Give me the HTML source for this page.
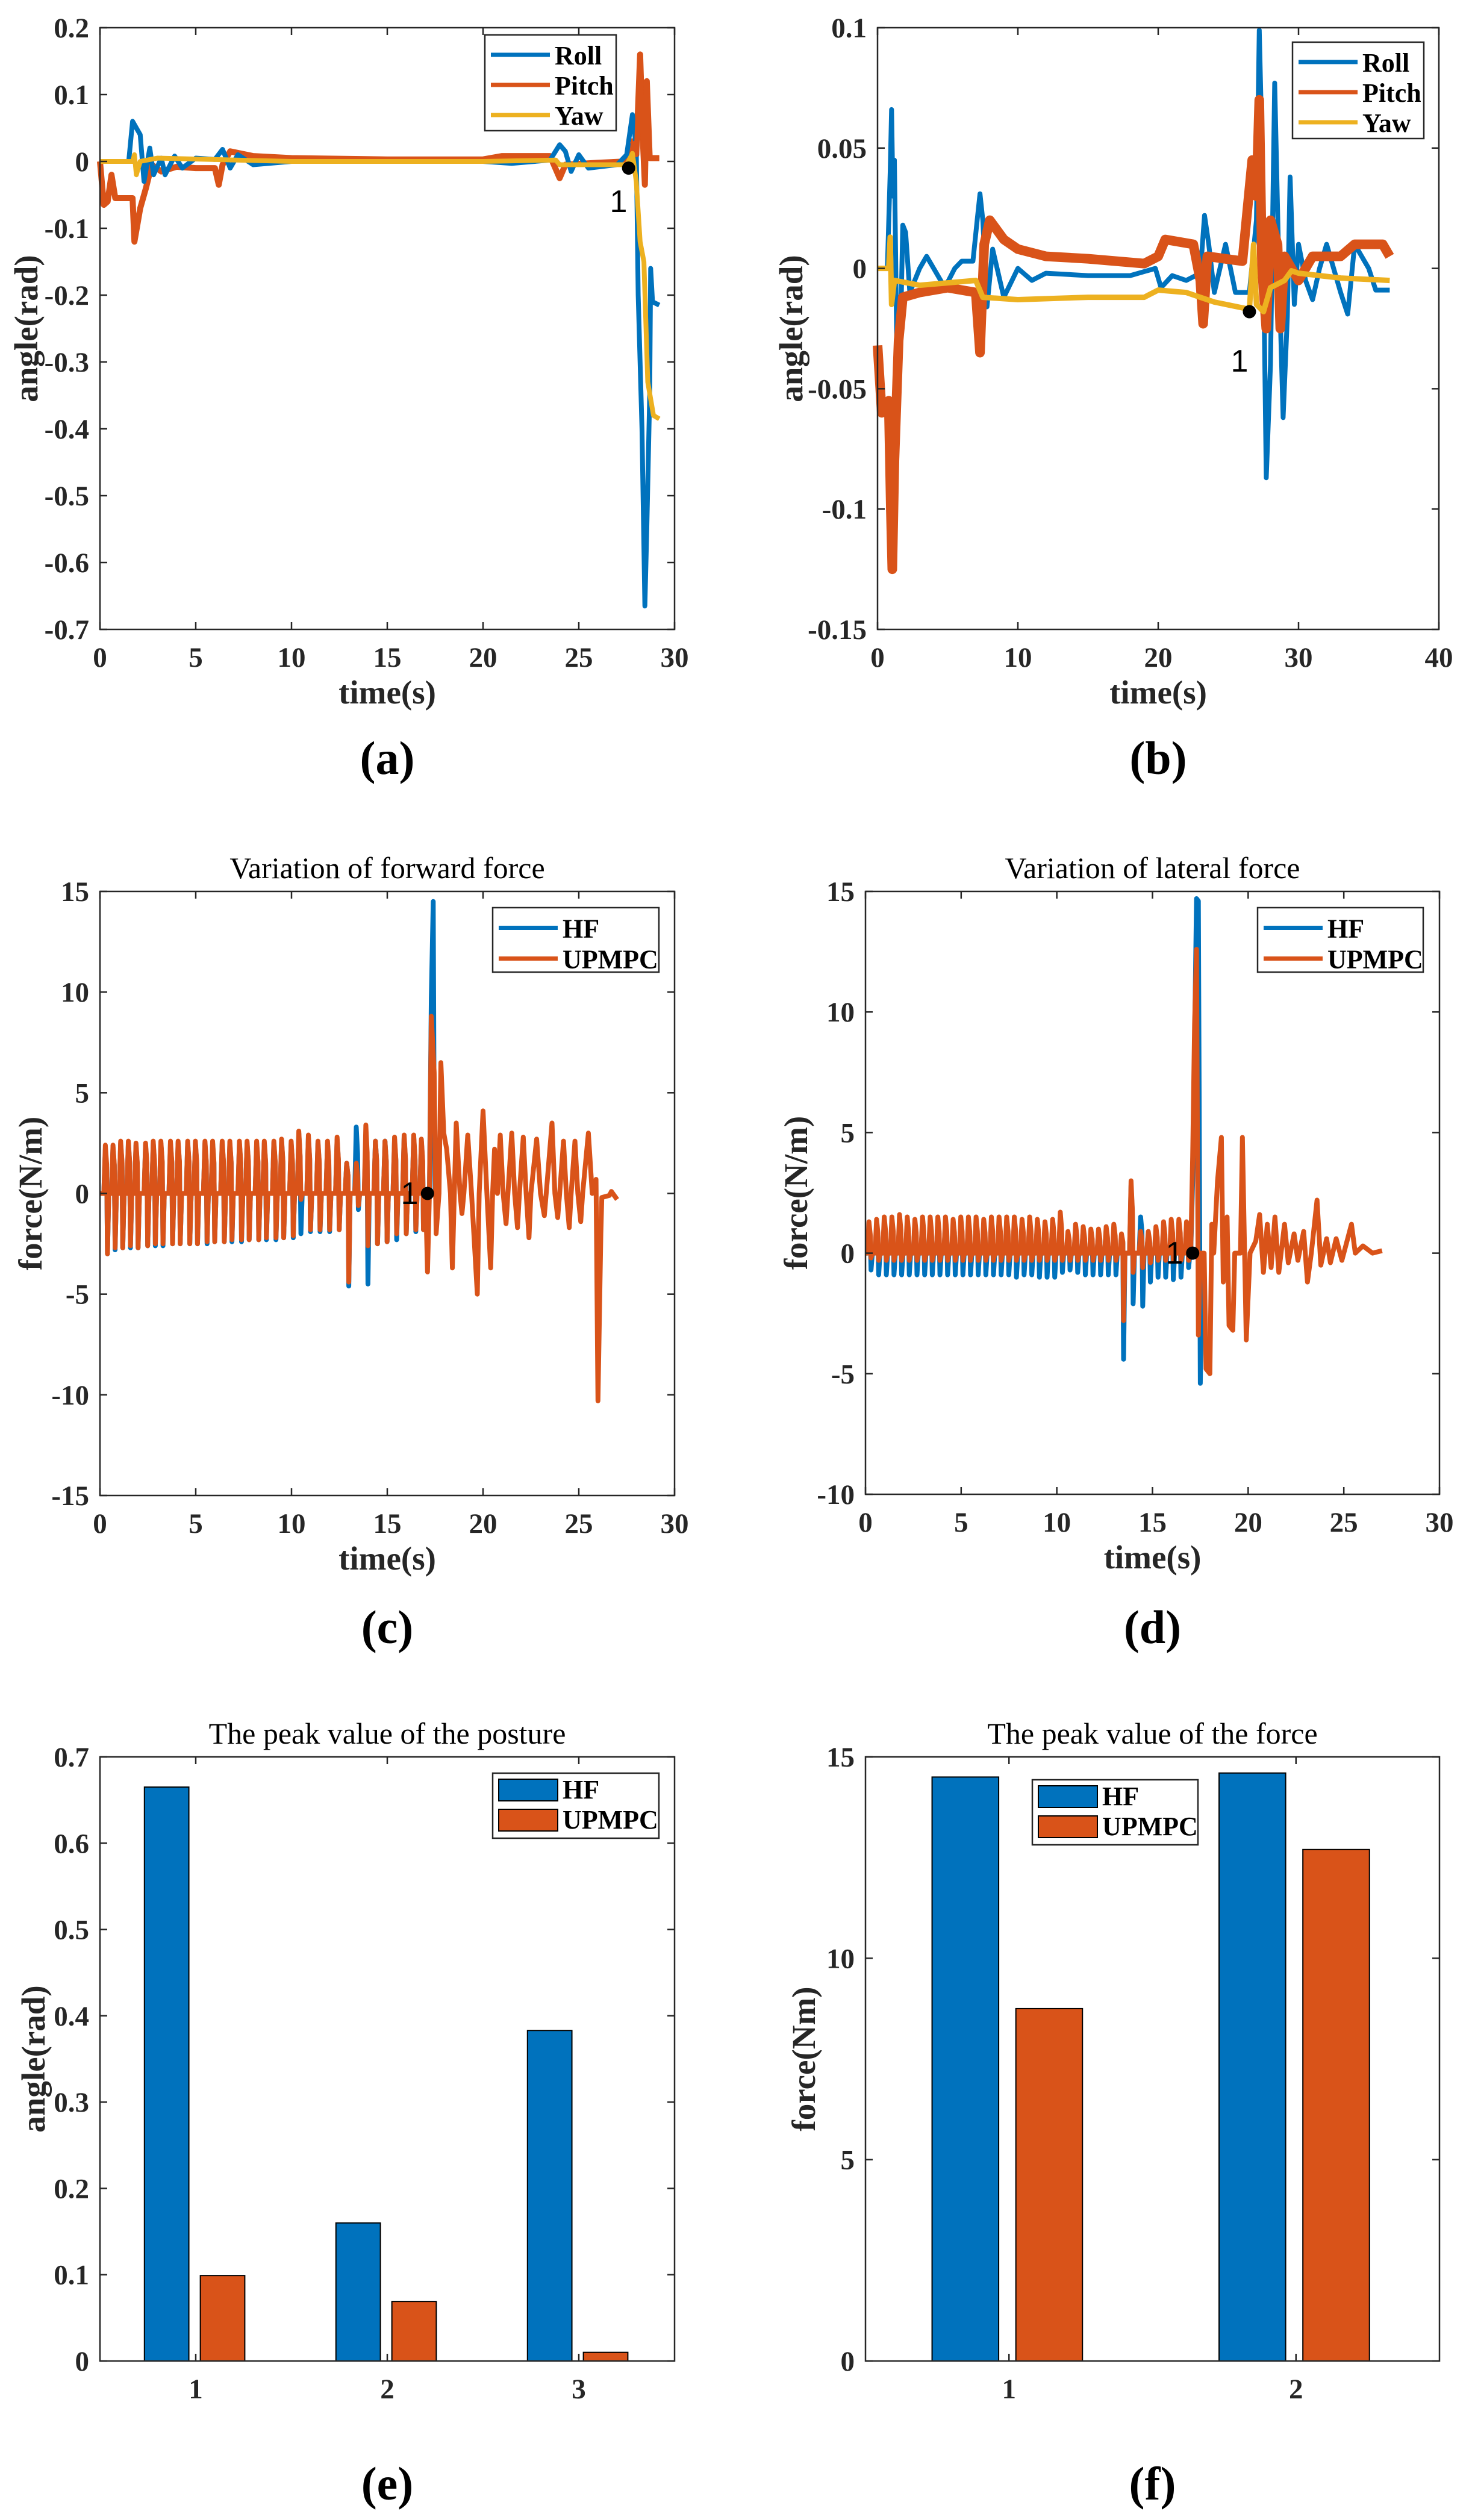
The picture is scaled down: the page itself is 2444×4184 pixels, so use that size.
<!DOCTYPE html>
<html><head><meta charset="utf-8">
<style>
html,body{margin:0;padding:0;background:#fff;}
svg{display:block;}
text{font-family:"Liberation Serif",serif;fill:#262626;}
.tk{font-size:47px;font-weight:bold;}
.al{font-size:55px;font-weight:bold;}
.tt{font-size:50px;fill:#000;}
.lg{font-size:44px;font-weight:bold;fill:#000;}
.pl{font-size:78px;fill:#000;font-weight:bold;}
</style></head>
<body>
<svg id="fig" width="2444" height="4184" viewBox="0 0 2444 4184" xmlns="http://www.w3.org/2000/svg"></svg>
<script>
// ---------- Panel (a) data: [time, angle] ----------
const rollA=[[0,0],[1.5,0],[1.7,0.06],[1.9,0.05],[2.1,0.04],[2.3,-0.03],[2.6,0.02],[2.8,-0.02],[3.2,0.005],[3.4,-0.02],[3.9,0.008],[4.3,-0.01],[5,0.005],[6,0.003],[6.4,0.018],[6.8,-0.01],[7.2,0.01],[8,-0.005],[10,0],[20,0],[21.5,-0.003],[23.5,0.002],[24,0.025],[24.3,0.015],[24.6,-0.015],[25,0.01],[25.5,-0.01],[27,-0.005],[27.5,0.01],[27.8,0.07],[28,0.02],[28.1,-0.2],[28.3,-0.4],[28.45,-0.665],[28.55,-0.55],[28.7,-0.35],[28.75,-0.16],[28.85,-0.21],[29.2,-0.215]];
const pitchA=[[0,0],[0.2,-0.065],[0.4,-0.06],[0.6,-0.02],[0.8,-0.055],[1.7,-0.055],[1.8,-0.12],[2.1,-0.07],[2.4,-0.04],[2.7,-0.005],[3.2,-0.015],[4,-0.008],[5,-0.01],[6,-0.01],[6.2,-0.035],[6.4,-0.005],[6.8,0.015],[8,0.008],[10,0.005],[15,0.003],[20,0.003],[21,0.008],[23.5,0.008],[24,-0.025],[24.3,-0.005],[26,-0.002],[27.5,0],[27.8,0.03],[28.0,0.01],[28.2,0.16],[28.35,0.03],[28.45,-0.035],[28.55,0.12],[28.7,0.005],[29.2,0.005]];
const yawA=[[0,0],[1.7,0],[1.8,0.01],[1.9,-0.02],[2.1,0],[3,0.005],[10,0],[20,0],[23.8,0.002],[24,-0.005],[27.5,-0.005],[27.8,0.012],[28,-0.03],[28.2,-0.12],[28.4,-0.15],[28.6,-0.33],[28.9,-0.38],[29.2,-0.385]];
const markA=[27.6,-0.01];
const yTicksA=[0.2,0.1,0,-0.1,-0.2,-0.3,-0.4,-0.5,-0.6,-0.7];
const yTickLabelsA=["0.2","0.1","0","-0.1","-0.2","-0.3","-0.4","-0.5","-0.6","-0.7"];
const xTicksA=[0,5,10,15,20,25,30];

// ---------- Panel (b) data ----------
const rollB=[[0,0],[0.7,0],[0.9,0.04],[1,0.066],[1.1,0.03],[1.2,0.045],[1.4,-0.045],[1.7,-0.01],[1.8,0.018],[2,0.015],[2.3,-0.01],[3,0],[3.5,0.005],[4,0],[4.8,-0.008],[5.5,0],[6,0.003],[6.8,0.003],[7.1,0.02],[7.3,0.031],[7.5,0.02],[7.8,-0.016],[8.2,0.008],[9,-0.012],[10,0],[11,-0.005],[12,-0.002],[15,-0.003],[18,-0.003],[19.8,0],[20.2,-0.008],[21,-0.003],[22,-0.005],[23,-0.002],[23.3,0.022],[23.6,0.01],[24,-0.01],[24.8,0.01],[25.5,-0.01],[26.5,-0.01],[27,0.02],[27.2,0.099],[27.4,0.05],[27.7,-0.087],[28,-0.04],[28.3,0.077],[28.6,0],[28.9,-0.062],[29.2,-0.02],[29.4,0.038],[29.7,-0.015],[30,0.01],[30.5,-0.005],[31,-0.013],[31.5,0],[32,0.01],[33,-0.01],[33.5,-0.019],[34,0.01],[35,0],[35.5,-0.009],[36.5,-0.009]];
const pitchB=[[0,-0.032],[0.3,-0.06],[0.6,-0.058],[0.8,-0.055],[0.95,-0.1],[1.05,-0.125],[1.2,-0.08],[1.5,-0.03],[1.8,-0.012],[3,-0.01],[5,-0.008],[7,-0.01],[7.3,-0.035],[7.6,0.01],[8,0.02],[9,0.012],[10,0.008],[12,0.005],[15,0.004],[19,0.002],[20,0.005],[20.5,0.012],[22.5,0.01],[23,-0.005],[23.2,-0.023],[23.5,0.005],[26,0.003],[26.7,0.045],[27,0.03],[27.2,0.07],[27.4,0],[27.7,-0.025],[28,0.02],[28.5,0.01],[28.7,-0.025],[29,0.005],[30,-0.005],[31,0.005],[33,0.005],[34,0.01],[35,0.01],[36,0.01],[36.5,0.005]];
const yawB=[[0,0],[0.8,0],[0.9,0.013],[1,-0.015],[1.2,-0.005],[3,-0.007],[7,-0.005],[7.5,-0.012],[10,-0.013],[15,-0.012],[19,-0.012],[20,-0.009],[22,-0.01],[23,-0.012],[24,-0.014],[26.5,-0.017],[26.8,0.01],[27,-0.015],[27.5,-0.018],[28,-0.008],[29,-0.005],[29.5,-0.001],[30,-0.002],[33,-0.004],[36.5,-0.005]];
const markB=[26.5,-0.018];
const yTicksB=[0.1,0.05,0,-0.05,-0.1,-0.15];
const yTickLabelsB=["0.1","0.05","0","-0.05","-0.1","-0.15"];
const xTicksB=[0,10,20,30,40];

// ---------- Panel (c) data ----------
const cycleTC=[0.2,0.6,1.0,1.4,1.8,2.3,2.7,3.1,3.6,4.0,4.5,4.9,5.4,5.8,6.3,6.7,7.2,7.6,8.1,8.5,9.0,9.4,9.9,10.3,10.8,11.3,11.8,12.3,12.8,13.3,13.8,14.3,14.8,15.3,15.8,16.3,16.7];
const upHiC=[2.4,2.4,2.6,2.6,2.5,2.5,2.6,2.6,2.6,2.6,2.6,2.6,2.6,2.6,2.6,2.6,2.6,2.6,2.6,2.6,2.6,2.7,2.6,3.1,2.9,2.6,2.6,2.8,1.5,1.5,3.4,2.6,2.6,2.8,2.9,2.9,2.7];
const upLoC=[-3.0,-2.7,-2.7,-2.6,-2.7,-2.6,-2.5,-2.5,-2.5,-2.5,-2.5,-2.5,-2.4,-2.4,-2.4,-2.3,-2.3,-2.3,-2.3,-2.2,-2.2,-2.2,-2.1,-0.3,-1.8,-1.8,-1.8,-1.8,-4.4,-0.6,-2.6,-2.5,-2.4,-2.0,-2.0,-1.8,-1.8];
const hfHiC=[2.2,2.3,2.5,2.5,2.4,2.4,2.5,2.5,2.5,2.5,2.5,2.5,2.5,2.5,2.5,2.5,2.5,2.5,2.5,2.5,2.5,2.6,2.5,3.0,2.8,2.5,2.5,2.7,1.5,3.3,2.7,2.6,2.6,2.7,2.8,2.8,2.6];
const hfLoC=[-3.0,-2.8,-2.7,-2.7,-2.7,-2.6,-2.6,-2.6,-2.5,-2.5,-2.5,-2.5,-2.5,-2.4,-2.4,-2.4,-2.4,-2.3,-2.3,-2.3,-2.3,-2.2,-2.2,-2.0,-1.9,-1.9,-1.9,-1.8,-4.6,-0.8,-4.5,-2.5,-2.4,-2.3,-2.0,-1.9,-1.8];
const upTailC=[[17.0,0],[17.1,-3.9],[17.2,0],[17.3,8.8],[17.45,6],[17.55,-2],[17.7,0],[17.8,6.5],[17.95,3],[18.1,2.2],[18.3,0],[18.4,-3.7],[18.5,0],[18.6,3.5],[18.8,0],[18.9,-1],[19.0,0],[19.2,2.9],[19.4,0],[19.7,-5],[19.8,0],[20.0,4.1],[20.2,0],[20.4,-3.7],[20.5,0],[20.6,2.2],[20.75,0],[20.9,2.9],[21.05,0],[21.2,-1.5],[21.3,0],[21.5,3],[21.65,0],[21.8,-1.7],[21.9,0],[22.1,2.8],[22.25,0],[22.4,-2.2],[22.5,0],[22.8,2.7],[23.0,0],[23.2,-1.1],[23.3,0],[23.6,3.5],[23.75,0],[23.9,-1.2],[24.0,0],[24.2,2.6],[24.35,0],[24.5,-1.7],[24.6,0],[24.8,2.6],[24.95,0],[25.1,-1.4],[25.2,0],[25.5,3],[25.7,0],[25.9,0.7],[26.0,-10.3],[26.15,-2],[26.2,-0.2],[26.6,-0.1],[26.7,0.1],[27,-0.3]];
const hfTailC=[[17.0,0],[17.2,0],[17.3,9.7],[17.4,14.5],[17.45,3],[17.5,0]];
const markC=[17.1,0];
const yTicksC=[15,10,5,0,-5,-10,-15];
const yTickLabelsC=["15","10","5","0","-5","-10","-15"];
const xTicksC=[0,5,10,15,20,25,30];

// ---------- Panel (d) data ----------
const cycleTD=[0.1,0.5,0.9,1.3,1.7,2.1,2.5,2.9,3.3,3.7,4.1,4.5,4.9,5.3,5.7,6.1,6.5,6.9,7.3,7.7,8.1,8.5,8.9,9.3,9.7,10.1,10.5,10.9,11.3,11.7,12.1,12.5,12.9,13.3,13.8,14.3,14.7,15.1,15.5,15.9,16.3,16.7];
const upHiD=[1.3,1.4,1.5,1.5,1.6,1.5,1.4,1.5,1.5,1.5,1.5,1.4,1.5,1.5,1.5,1.4,1.5,1.5,1.5,1.5,1.4,1.5,1.4,1.3,1.4,1.7,0.9,1.2,1.1,1.0,1.0,1.1,1.2,0.8,3.0,0.9,0.9,1.1,1.3,1.4,1.4,1.3];
const upLoD=[-0.2,-0.3,-0.3,-0.3,-0.3,-0.3,-0.3,-0.3,-0.3,-0.3,-0.3,-0.3,-0.3,-0.3,-0.3,-0.3,-0.3,-0.3,-0.3,-0.3,-0.3,-0.3,-0.3,-0.3,-0.3,-0.3,-0.3,-0.3,-0.3,-0.3,-0.3,-0.3,-0.3,-2.8,-0.8,-0.6,-0.4,-0.3,-0.3,-0.3,-0.3,-0.3];
const hfHiD=[1.1,1.2,1.3,1.3,1.3,1.3,1.2,1.3,1.3,1.3,1.3,1.2,1.3,1.3,1.3,1.2,1.3,1.3,1.3,1.3,1.2,1.3,1.2,1.1,1.2,1.4,0.8,1.0,1.0,0.9,0.9,1.0,1.0,0.7,2.8,1.5,0.8,0.9,1.0,1.1,1.1,1.1];
const hfLoD=[-0.7,-0.9,-0.9,-0.9,-0.9,-0.9,-0.9,-0.9,-0.9,-0.9,-0.9,-0.9,-0.9,-0.9,-0.9,-0.9,-0.9,-0.9,-0.9,-1.0,-0.9,-0.9,-1.0,-1.0,-1.0,-0.8,-0.7,-0.8,-0.9,-0.9,-0.9,-0.9,-0.9,-4.4,-2.1,-2.2,-1.2,-1.0,-1.0,-1.1,-1.0,-0.6];
const upTailD=[[17.0,0],[17.1,4],[17.2,9.5],[17.3,12.6],[17.4,-3.4],[17.5,0],[17.7,0],[17.8,-4.8],[18.0,-5],[18.1,1.2],[18.2,0],[18.4,3],[18.6,4.8],[18.7,-1.2],[18.8,0],[18.9,1.5],[19.0,-3],[19.2,-3.2],[19.3,0],[19.6,0],[19.7,4.8],[19.9,-3.6],[20.1,0],[20.4,0.5],[20.6,1.6],[20.8,-0.8],[21.0,1.2],[21.2,-0.6],[21.4,1.5],[21.6,-0.8],[21.9,1.2],[22.1,-0.4],[22.4,0.8],[22.6,-0.3],[22.9,0.9],[23.1,-1.2],[23.3,0],[23.6,2.2],[23.8,-0.5],[24.1,0.6],[24.3,-0.4],[24.6,0.6],[24.9,-0.3],[25.4,1.2],[25.6,0],[26,0.3],[26.5,0],[27,0.1]];
const hfTailD=[[17.0,0],[17.1,3],[17.2,8.8],[17.3,14.7],[17.4,14.6],[17.5,-5.4],[17.6,0]];
const markD=[17.1,0];
const yTicksD=[15,10,5,0,-5,-10];
const yTickLabelsD=["15","10","5","0","-5","-10"];
const xTicksD=[0,5,10,15,20,25,30];

// ---------- Panel (e) / (f) bar data ----------
const catsE=["1","2","3"];
const hfE=[0.665,0.16,0.383];
const upE=[0.099,0.069,0.01];
const yTicksE=[0,0.1,0.2,0.3,0.4,0.5,0.6,0.7];
const yTickLabelsE=["0","0.1","0.2","0.3","0.4","0.5","0.6","0.7"];
const catsF=["1","2"];
const hfF=[14.5,14.6];
const upF=[8.75,12.7];
const yTicksF=[0,5,10,15];
const yTickLabelsF=["0","5","10","15"];

const BLUE="#0072BD",ORANGE="#D95319",YELLOW="#EDB120",AX="#262626";
const NS="http://www.w3.org/2000/svg";
const svg=document.getElementById('fig');
function mk(tag,attrs,parent,txt){const e=document.createElementNS(NS,tag);for(const k in attrs)e.setAttribute(k,attrs[k]);if(txt!==undefined)e.textContent=txt;(parent||svg).appendChild(e);return e;}

function makeAxes(name,box,xd,yd){
  const g=mk('g',{});
  
  
  const sx=v=>box.l+(v-xd[0])/(xd[1]-xd[0])*(box.r-box.l);
  const sy=v=>box.b-(v-yd[0])/(yd[1]-yd[0])*(box.b-box.t);
  return {g,sx,sy,box};
}
function drawFrame(A,xt,xtl,yt,ytl){
  const {g,sx,sy,box}=A;
  const fr=mk('rect',{x:box.l,y:box.t,width:box.r-box.l,height:box.b-box.t,fill:'none',stroke:AX,'stroke-width':2.5},g);
  
  
  xt.forEach((v,i)=>{const x=sx(v);
    mk('line',{x1:x,y1:box.b,x2:x,y2:box.b-12,stroke:AX,'stroke-width':2.5},g);
    mk('line',{x1:x,y1:box.t,x2:x,y2:box.t+12,stroke:AX,'stroke-width':2.5},g);
    const t=mk('text',{x:x,y:box.b+62,'text-anchor':'middle',class:'tk'},g,xtl[i]);
    
    
  });
  yt.forEach((v,i)=>{const y=sy(v);
    mk('line',{x1:box.l,y1:y,x2:box.l+12,y2:y,stroke:AX,'stroke-width':2.5},g);
    mk('line',{x1:box.r,y1:y,x2:box.r-12,y2:y,stroke:AX,'stroke-width':2.5},g);
    const t=mk('text',{x:box.l-18,y:y+16,'text-anchor':'end',class:'tk'},g,ytl[i]);
    
    
  });
}
function line(A,pts,color,name,w){
  const d=pts.map((p,i)=>(i?'L':'M')+A.sx(p[0]).toFixed(1)+' '+A.sy(p[1]).toFixed(1)).join(' ');
  const p=mk('path',{d:d,fill:'none',stroke:color,'stroke-width':w||7,'stroke-linejoin':'round'},A.g);
  
  
}
function cyclePts(ts,hi,lo,tail){
  const out=[[0,0]];
  ts.forEach((t,i)=>{out.push([t,0],[t+0.08,hi[i]],[t+0.15,hi[i]*0.6],[t+0.19,lo[i]],[t+0.26,0]);});
  return out.concat(tail);
}
function labels(A,xl,yl,ylx,title,panel,panelY){
  const {g,box}=A;const cx=(box.l+box.r)/2;
  if(xl){const t=mk('text',{x:cx,y:box.b+123,'text-anchor':'middle',class:'al'},g,xl);
    }
  const yt=mk('text',{x:ylx,y:(box.t+box.b)/2,'text-anchor':'middle',class:'al',transform:`rotate(-90 ${ylx} ${(box.t+box.b)/2})`,dy:18},g,yl);
  
  if(title){const t=mk('text',{x:cx,y:box.t-22,'text-anchor':'middle',class:'tt'},g,title);
    }
  const p=mk('text',{x:cx,y:panelY,'text-anchor':'middle',class:'pl'},svg,panel);
  
}
function legendLines(A,x,y,w,h,items,rowH){
  const lg=mk('g',{},A.g);
  
  
  mk('rect',{x:x,y:y,width:w,height:h,fill:'#fff',stroke:AX,'stroke-width':2.5},lg);
  items.forEach((it,i)=>{const yy=y+28+rowH*i+ (rowH/2)-20;
    const e=mk('g',{},lg);
    
    
    mk('line',{x1:x+10,y1:yy,x2:x+108,y2:yy,stroke:it[1],'stroke-width':7},e);
    mk('text',{x:x+116,y:yy+16,class:'lg'},e,it[0]);});
}
function legendPatches(A,x,y,w,h,items){
  const lg=mk('g',{},A.g);
  
  
  mk('rect',{x:x,y:y,width:w,height:h,fill:'#fff',stroke:AX,'stroke-width':2.5},lg);
  items.forEach((it,i)=>{const yy=y+10+i*50;
    const e=mk('g',{},lg);
    
    
    mk('rect',{x:x+10,y:yy,width:98,height:36,fill:it[1],stroke:'#000','stroke-width':2},e);
    mk('text',{x:x+116,y:yy+32,class:'lg'},e,it[0]);});
}
function marker(A,p,lx,ly){
  const c=mk('circle',{cx:A.sx(p[0]),cy:A.sy(p[1]),r:11,fill:'#000'},A.g);
  
  const t=mk('text',{x:lx,y:ly,'text-anchor':'middle',style:'font-family:"Liberation Sans",sans-serif;font-size:52px;fill:#000'},A.g,'1');
  
}
function bars(A,cats,s1,s2){
  cats.forEach((c,i)=>{const x=i+1;
    [[s1,-0.152,BLUE,'bar-hf'],[s2,0.14,ORANGE,'bar-upmpc']].forEach(s=>{
      const v=s[0][i];const x0=A.sx(x+s[1]-0.116),x1=A.sx(x+s[1]+0.116);
      const r=mk('rect',{x:x0,y:A.sy(v),width:x1-x0,height:A.sy(0)-A.sy(v),fill:s[2],stroke:'#000','stroke-width':2},A.g);
      
      
    });
  });
}

// Panel a
let A=makeAxes('chart-a-attitude',{l:166,r:1120,t:46,b:1045},[0,30],[-0.7,0.2]);
line(A,pitchA,ORANGE,'pitch-line',10);line(A,rollA,BLUE,'roll-line',8);line(A,pitchA.filter(p=>p[0]>27.5),ORANGE,'pitch-line-end',8);line(A,yawA,YELLOW,'yaw-line',8);
marker(A,markA,1027,352);
drawFrame(A,xTicksA,xTicksA.map(String),yTicksA,yTickLabelsA);
legendLines(A,805,58,218,159,[["Roll",BLUE],["Pitch",ORANGE],["Yaw",YELLOW]],50);
labels(A,'time(s)','angle(rad)',44,null,'(a)',1285);

// Panel b
A=makeAxes('chart-b-attitude',{l:1457,r:2389,t:46,b:1045},[0,40],[-0.15,0.1]);
line(A,rollB,BLUE,'roll-line',8);line(A,pitchB,ORANGE,'pitch-line',16);line(A,yawB,YELLOW,'yaw-line',9);
marker(A,markB,2058,617);
drawFrame(A,xTicksB,xTicksB.map(String),yTicksB,yTickLabelsB);
legendLines(A,2146,70,218,160,[["Roll",BLUE],["Pitch",ORANGE],["Yaw",YELLOW]],50);
labels(A,'time(s)','angle(rad)',1314,null,'(b)',1285);

// Panel c
A=makeAxes('chart-c-forward-force',{l:166,r:1120,t:1480,b:2483},[0,30],[-15,15]);
line(A,cyclePts(cycleTC,hfHiC,hfLoC,hfTailC),BLUE,'hf-line',8);
line(A,cyclePts(cycleTC,upHiC,upLoC,upTailC),ORANGE,'upmpc-line',8);
marker(A,markC,680,1999);
drawFrame(A,xTicksC,xTicksC.map(String),yTicksC,yTickLabelsC);
legendLines(A,818,1507,276,107,[["HF",BLUE],["UPMPC",ORANGE]],51);
labels(A,'time(s)','force(N/m)',51,'Variation of forward force','(c)',2728);

// Panel d
A=makeAxes('chart-d-lateral-force',{l:1437,r:2390,t:1480,b:2481},[0,30],[-10,15]);
line(A,cyclePts(cycleTD,hfHiD,hfLoD,hfTailD),BLUE,'hf-line',8);
line(A,cyclePts(cycleTD,upHiD,upLoD,upTailD),ORANGE,'upmpc-line',8);
marker(A,markD,1950,2098);
drawFrame(A,xTicksD,xTicksD.map(String),yTicksD,yTickLabelsD);
legendLines(A,2088,1507,275,107,[["HF",BLUE],["UPMPC",ORANGE]],51);
labels(A,'time(s)','force(N/m)',1322,'Variation of lateral force','(d)',2728);

// Panel e
A=makeAxes('chart-e-peak-posture',{l:166,r:1120,t:2917,b:3920},[0.5,3.5],[0,0.7]);
bars(A,catsE,hfE,upE);
drawFrame(A,[1,2,3],catsE,yTicksE,yTickLabelsE);
legendPatches(A,818,2944,276,108,[["HF",BLUE],["UPMPC",ORANGE]]);
labels(A,null,'angle(rad)',56,'The peak value of the posture','(e)',4150);

// Panel f
A=makeAxes('chart-f-peak-force',{l:1437,r:2390,t:2917,b:3920},[0.5,2.5],[0,15]);
bars(A,catsF,hfF,upF);
drawFrame(A,[1,2],catsF,yTicksF,yTickLabelsF);
legendPatches(A,1714,2955,275,108,[["HF",BLUE],["UPMPC",ORANGE]]);
labels(A,null,'force(Nm)',1335,'The peak value of the force','(f)',4150);
</script>
</body></html>
